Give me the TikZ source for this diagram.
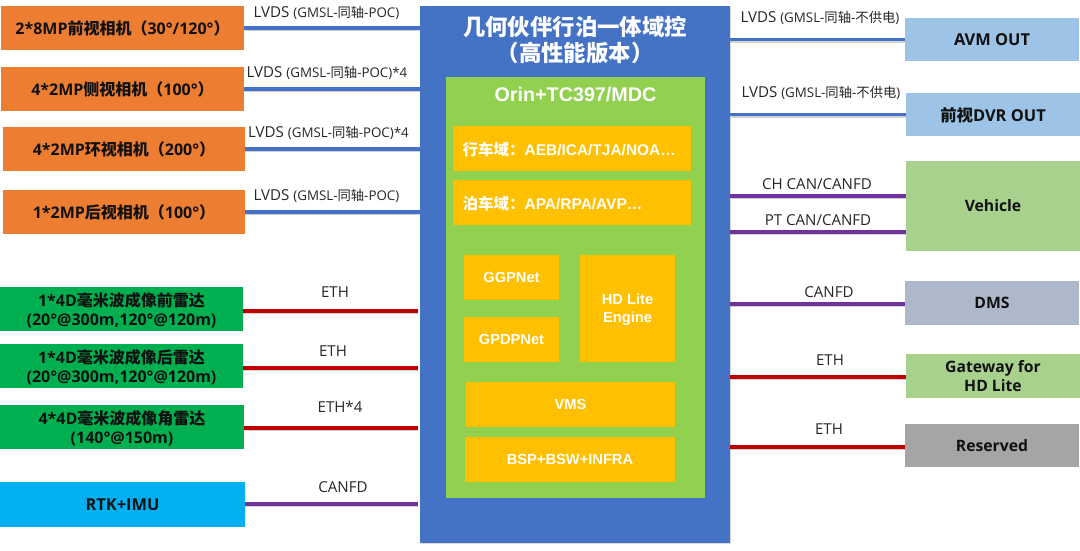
\documentclass[tikz,border=0pt]{standalone}
\usepackage{fontspec}
\usetikzlibrary{shadows}
\setmainfont{Open Sans}
\newfontfamily\cj{Noto Sans CJK SC}
\newfontfamily\ari{Liberation Sans}
\definecolor{cOrange}{HTML}{ED7D31}
\definecolor{cGreen}{HTML}{00B050}
\definecolor{cCyan}{HTML}{00B0F0}
\definecolor{cBlue}{HTML}{4472C4}
\definecolor{cLime}{HTML}{92D050}
\definecolor{cAmber}{HTML}{FFC000}
\definecolor{cSky}{HTML}{9DC3E6}
\definecolor{cLeaf}{HTML}{A9D18E}
\definecolor{cSlate}{HTML}{ADB9CA}
\definecolor{cGray}{HTML}{A5A5A5}
\definecolor{cRed}{HTML}{C00000}
\definecolor{cPurple}{HTML}{7030A0}
\definecolor{cInk}{HTML}{111111}
\definecolor{cLabel}{HTML}{262626}
\tikzset{
  x=0.75pt,y=-0.75pt,
  box/.style={inner sep=0pt,align=center,text depth=0pt,text=cInk,font=\fontsize{12pt}{13.6pt}\selectfont\bfseries},
  outbox/.style={box,font=\fontsize{11.8pt}{14pt}\selectfont\bfseries},
  outbig/.style={box,font=\fontsize{12.3pt}{14pt}\selectfont\bfseries},
  core/.style={box,text=white,font=\ari\fontsize{11pt}{13.6pt}\selectfont\bfseries},
  domainbox/.style={core,font=\ari\fontsize{11.6pt}{13.6pt}\selectfont\bfseries,text width=163.9pt,align=left},
  lbl/.style={inner sep=0pt,text=cLabel,font=\fontsize{11.3pt}{12pt}\selectfont},
  link/.style={line width=2.8pt,preaction={draw=black!18,line width=2.8pt,transform canvas={yshift=-1.2pt}}},
  lvdslink/.style={link,draw=cBlue},
  ethlink/.style={link,draw=cRed},
  canlink/.style={link,draw=cPurple},
}
% name, x1, y1, x2, y2, style and fill, text
\newcommand{\pxbox}[7]{%
  \node[#6,minimum width={(#4-#2)*0.75pt},minimum height={(#5-#3)*0.75pt}] (#1) at ({(#2+#4)/2},{(#3+#5)/2}) {#7};}
\newcommand{\sm}[1]{{\fontsize{10pt}{11pt}\selectfont #1}}
\begin{document}
\begin{tikzpicture}
\useasboundingbox (0,0) rectangle (1080,550);
% central unit
\pxbox{main}{420}{6}{730}{543}{box,fill=cBlue,drop shadow={shadow xshift=0.5pt,shadow yshift=-1pt,opacity=.3}}{}
\node[inner sep=0pt,align=center,text=white,font=\cj\fontsize{16.8pt}{20pt}\selectfont\bfseries] (title) at (575,40) {几何伙伴行泊一体域控\\（高性能版本）};
\pxbox{soc}{446}{77}{705}{498}{box,fill=cLime}{}
\node[inner sep=0pt,text=white,font=\ari\fontsize{14.8pt}{16pt}\selectfont\bfseries] (soct) at (575.5,94.5) {Orin+TC397/MDC};
\pxbox{drive}{453}{126}{691}{171}{domainbox,fill=cAmber}{{\cj 行车域：}AEB/ICA/TJA/NOA…}
\pxbox{park}{453}{180}{691}{225}{domainbox,fill=cAmber}{{\cj 泊车域：}APA/RPA/AVP…}
\pxbox{ggp}{464}{255}{559}{300}{core,fill=cAmber}{GGPNet}
\pxbox{gpdp}{464}{317}{559}{362}{core,fill=cAmber}{GPDPNet}
\pxbox{hd}{580}{255}{675}{362}{core,fill=cAmber}{HD Lite\\Engine}
\pxbox{vms}{466}{382}{675}{427}{core,fill=cAmber}{VMS}
\pxbox{bsp}{465}{437}{675}{482}{core,fill=cAmber}{BSP+BSW+INFRA}
% left column
\pxbox{cam1}{1}{6}{244}{50}{box,fill=cOrange}{2*8MP{\cj 前视相机（}30°/120°{\cj ）}}
\pxbox{cam2}{1}{67}{244}{111}{box,fill=cOrange}{4*2MP{\cj 侧视相机（}100°{\cj ）}}
\pxbox{cam3}{3}{127}{245}{171}{box,fill=cOrange}{4*2MP{\cj 环视相机（}200°{\cj ）}}
\pxbox{cam4}{3}{190}{245}{234}{box,fill=cOrange}{1*2MP{\cj 后视相机（}100°{\cj ）}}
\pxbox{rad1}{0}{287}{243}{331}{box,fill=cGreen}{1*4D{\cj 毫米波成像前雷达}\\(20°@300m,120°@120m)}
\pxbox{rad2}{0}{344}{243}{388}{box,fill=cGreen}{1*4D{\cj 毫米波成像后雷达}\\(20°@300m,120°@120m)}
\pxbox{rad3}{0}{405}{244}{449}{box,fill=cGreen}{4*4D{\cj 毫米波成像角雷达}\\(140°@150m)}
\pxbox{rtk}{0}{482}{245}{527}{outbig,fill=cCyan}{RTK+IMU}
% right column
\pxbox{avm}{905}{18}{1079}{61}{outbig,fill=cSky}{AVM OUT}
\pxbox{dvr}{906}{93}{1080}{136}{outbig,fill=cSky}{{\cj 前视}DVR OUT}
\pxbox{veh}{906}{161}{1080}{251}{outbox,fill=cLeaf}{Vehicle}
\pxbox{dms}{905}{281}{1079}{325}{outbox,fill=cSlate}{DMS}
\pxbox{gw}{906}{354}{1080}{398}{outbox,fill=cLeaf}{Gateway for\\HD Lite}
\pxbox{res}{905}{424}{1079}{467}{outbox,fill=cGray}{Reserved}
% connectors
\draw[lvdslink] (cam1.east) -- (main.west |- cam1.east);
\draw[lvdslink] (cam2.east) -- (main.west |- cam2.east);
\draw[lvdslink] (cam3.east) -- (main.west |- cam3.east);
\draw[lvdslink] (cam4.east) -- (main.west |- cam4.east);
\draw[ethlink] (rad1.east |- 0,311) -- ([xshift=-1.5pt]main.west |- 0,311);
\draw[ethlink] (rad2.east |- 0,368) -- ([xshift=-1.5pt]main.west |- 0,368);
\draw[ethlink] (rad3.east |- 0,428) -- ([xshift=-1.5pt]main.west |- 0,428);
\draw[canlink] (rtk.east |- 0,504) -- ([xshift=-1.5pt]main.west |- 0,504);
\draw[lvdslink] (main.east |- avm.west) -- (avm.west);
\draw[lvdslink] (main.east |- dvr.west) -- (dvr.west);
\draw[canlink] (main.east |- 0,196) -- (veh.west |- 0,196);
\draw[canlink] (main.east |- 0,232) -- (veh.west |- 0,232);
\draw[canlink] (main.east |- 0,304) -- (dms.west |- 0,304);
\draw[ethlink] (main.east |- 0,377) -- (gw.west |- 0,377);
\draw[ethlink] (main.east |- 0,447) -- (res.west |- 0,447);
% connector labels
\node[lbl] (l1) at (326.5,13) {LVDS \sm{(GMSL-{\cj 同轴}-POC)}};
\node[lbl] (l2) at (327,73) {LVDS \sm{(GMSL-{\cj 同轴}-POC)*4}};
\node[lbl] (l3) at (328.5,133) {LVDS \sm{(GMSL-{\cj 同轴}-POC)*4}};
\node[lbl] (l4) at (326.5,196) {LVDS \sm{(GMSL-{\cj 同轴}-POC)}};
\node[lbl] (l5) at (335,292) {ETH};
\node[lbl] (l6) at (333,351) {ETH};
\node[lbl] (l7) at (340,407) {ETH*4};
\node[lbl] (l8) at (343,487) {CANFD};
\node[lbl] (r1) at (820,18) {LVDS \sm{(GMSL-{\cj 同轴}-{\cj 不供电})}};
\node[lbl] (r2) at (821,93) {LVDS \sm{(GMSL-{\cj 同轴}-{\cj 不供电})}};
\node[lbl] (r3) at (817,184) {CH CAN/CANFD};
\node[lbl] (r4) at (818,220) {PT CAN/CANFD};
\node[lbl] (r5) at (829,292) {CANFD};
\node[lbl] (r6) at (830,360) {ETH};
\node[lbl] (r7) at (829,429) {ETH};
\end{tikzpicture}
\end{document}
